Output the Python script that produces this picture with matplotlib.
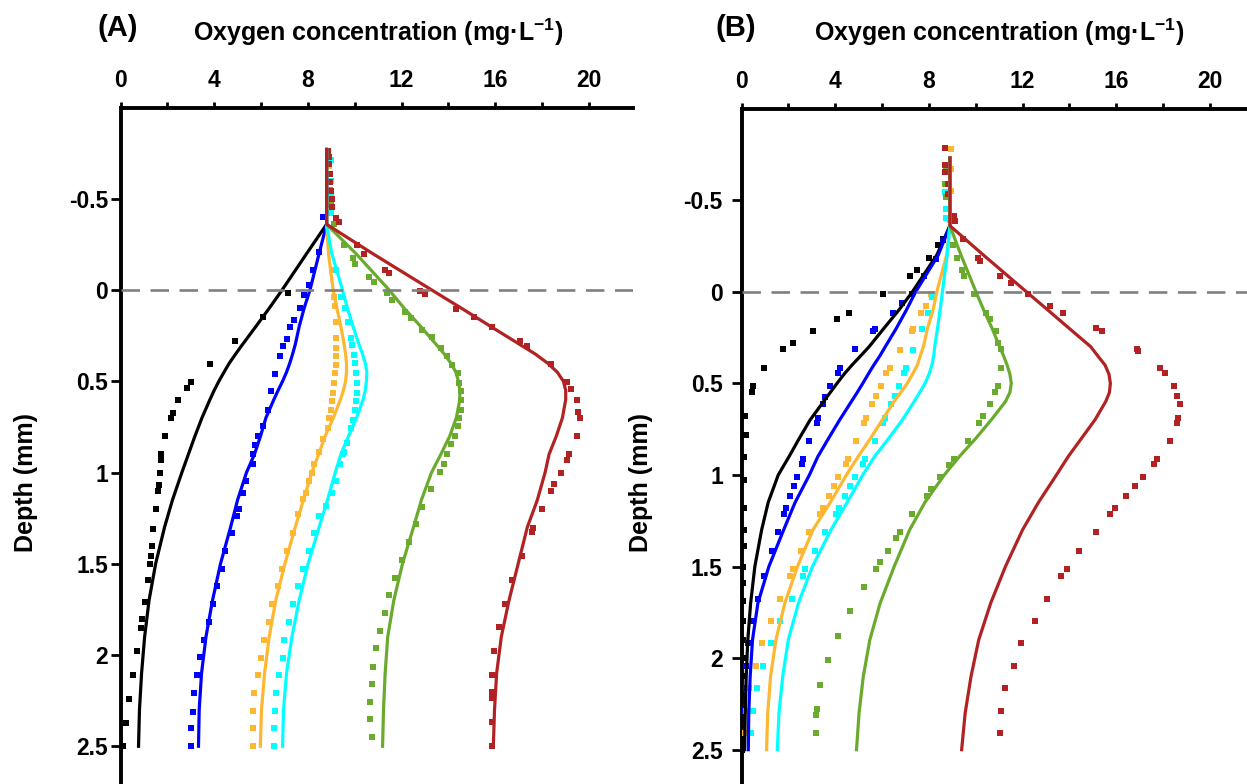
import matplotlib
matplotlib.use("Agg")
import matplotlib.pyplot as plt
from matplotlib.ticker import FixedLocator

plt.rcParams['font.family'] = ['Liberation Sans', 'DejaVu Sans']
plt.rcParams['font.weight'] = 'bold'
plt.rcParams['mathtext.fontset'] = 'custom'
plt.rcParams['mathtext.rm'] = 'Liberation Sans:bold'
plt.rcParams['mathtext.bf'] = 'Liberation Sans:bold'
plt.rcParams['mathtext.it'] = 'Liberation Sans:bold:italic'
plt.rcParams['mathtext.default'] = 'rm'

# ---------------- shared ----------------
series = ["black", "blue", "orange", "cyan", "green", "red"]
colors = {"black": "#000000", "blue": "#0000FF", "orange": "#FDB733",
          "cyan": "#00FFFF", "green": "#6AAB2E", "red": "#B22222"}
x_major = [0, 4, 8, 12, 16, 20]
x_minor = [2, 6, 10, 14, 18]
y_ticks = [-0.5, 0, 0.5, 1, 1.5, 2, 2.5]
y_ticklabels = ["-0.5", "0", "0.5", "1", "1.5", "2", "2.5"]

# model-line depth grid (mm)
line_depth_A = [-0.77, -0.36, -0.2, 0.0, 0.1, 0.2, 0.3, 0.35, 0.4, 0.45, 0.5, 0.55, 0.6,
                0.7, 0.8, 0.9, 1.0, 1.15, 1.3, 1.5, 1.7, 1.9, 2.1, 2.3, 2.5]
line_depth_B = [-0.73, -0.36, -0.2, 0.0, 0.1, 0.2, 0.3, 0.35, 0.4, 0.45, 0.5, 0.55, 0.6,
                0.7, 0.8, 0.9, 1.0, 1.15, 1.3, 1.5, 1.7, 1.9, 2.1, 2.3, 2.5]

# ---------------- panel A model lines ----------------
lineA_black = [8.8, 8.8, 7.95, 6.9, 6.35, 5.78, 5.2, 4.92, 4.65, 4.42, 4.2, 4.0, 3.82,
               3.48, 3.18, 2.9, 2.62, 2.22, 1.88, 1.5, 1.22, 1.03, 0.9, 0.81, 0.77]
lineA_blue = [8.8, 8.8, 8.48, 8.09, 7.84, 7.63, 7.46, 7.35, 7.23, 7.09, 6.92, 6.73, 6.55,
              6.21, 5.98, 5.72, 5.38, 5.0, 4.7, 4.27, 3.93, 3.65, 3.46, 3.36, 3.33]
lineA_orange = [8.8, 8.8, 8.88, 9.08, 9.24, 9.41, 9.55, 9.61, 9.65, 9.65, 9.61, 9.52, 9.39,
                9.09, 8.74, 8.46, 8.17, 7.81, 7.46, 7.02, 6.63, 6.35, 6.15, 6.02, 5.97]
lineA_cyan = [8.8, 8.8, 9.02, 9.48, 9.69, 9.93, 10.19, 10.33, 10.45, 10.52, 10.5, 10.45, 10.36,
              10.08, 9.74, 9.41, 9.17, 8.84, 8.48, 8.01, 7.63, 7.32, 7.09, 6.96, 6.92]
lineA_green = [8.8, 8.8, 10.05, 11.47, 12.11, 12.82, 13.49, 13.82, 14.1, 14.32, 14.43, 14.49, 14.49,
               14.34, 14.06, 13.68, 13.28, 12.85, 12.51, 12.04, 11.67, 11.41, 11.3, 11.23, 11.19]
lineA_red = [8.8, 8.8, 10.76, 13.29, 14.56, 15.81, 17.07, 17.7, 18.23, 18.65, 18.91, 19.01, 19.01,
             18.87, 18.61, 18.3, 18.13, 17.8, 17.37, 16.98, 16.59, 16.26, 16.06, 15.97, 15.92]

# ---------------- panel B model lines ----------------
lineB_black = [8.9, 8.9, 8.34, 7.3, 6.72, 6.08, 5.45, 5.09, 4.72, 4.38, 4.08, 3.79, 3.5,
               2.93, 2.47, 2.03, 1.57, 1.14, 0.86, 0.57, 0.39, 0.27, 0.2, 0.16, 0.13]
lineB_blue = [8.9, 8.9, 8.4, 7.44, 7.04, 6.61, 6.14, 5.91, 5.65, 5.41, 5.18, 4.94, 4.69,
              4.19, 3.72, 3.26, 2.9, 2.29, 1.8, 1.17, 0.7, 0.47, 0.37, 0.31, 0.29]
lineB_orange = [8.9, 8.9, 8.76, 8.34, 8.18, 7.94, 7.77, 7.63, 7.51, 7.3, 7.08, 6.8, 6.51,
                6.01, 5.51, 4.98, 4.48, 3.79, 3.05, 2.39, 1.85, 1.47, 1.24, 1.12, 1.07]
lineB_cyan = [8.9, 8.9, 8.78, 8.58, 8.48, 8.37, 8.25, 8.21, 8.13, 8.01, 7.84, 7.61, 7.37,
              6.87, 6.29, 5.68, 5.18, 4.51, 3.82, 3.03, 2.43, 2.0, 1.76, 1.6, 1.53]
lineB_green = [8.9, 8.9, 9.37, 10.01, 10.34, 10.7, 11.02, 11.19, 11.34, 11.46, 11.52, 11.46, 11.27,
               10.66, 10.01, 9.3, 8.66, 7.83, 7.18, 6.52, 5.92, 5.48, 5.2, 5.02, 4.91]
lineB_red = [8.9, 8.9, 10.33, 12.16, 13.08, 13.99, 14.91, 15.21, 15.52, 15.69, 15.75, 15.71, 15.55,
             15.09, 14.52, 13.95, 13.45, 12.68, 12.0, 11.27, 10.64, 10.13, 9.8, 9.55, 9.4]

# ---------------- panel A measured points ----------------
dotA_black_x = [7.16, 6.07, 4.90, 3.83, 3.01, 2.82, 2.45, 2.25, 2.15, 1.91, 1.75, 1.75, 1.69, 1.63,
                1.60, 1.52, 1.40, 1.34, 1.29, 1.25, 1.17, 1.05, 0.92, 0.86, 0.70, 0.53, 0.38, 0.23, 0.09]
dotA_black_y = [0.018, 0.149, 0.28, 0.405, 0.504, 0.538, 0.604, 0.673, 0.702, 0.80, 0.90, 0.93, 1.004,
                1.07, 1.10, 1.20, 1.31, 1.40, 1.46, 1.50, 1.59, 1.71, 1.80, 1.85, 1.98, 2.11, 2.24, 2.37, 2.50]
dotA_blue_x = [8.66, 8.46, 8.2, 8.03, 7.85, 7.67, 7.42, 7.25, 7.09, 6.95, 6.82, 6.59, 6.42, 6.28, 6.07,
               5.89, 5.75, 5.67, 5.64, 5.36, 5.21, 5.04, 4.97, 4.76, 4.47, 4.32, 4.14, 3.95, 3.76, 3.58,
               3.41, 3.26, 3.15, 3.08, 3.02, 3.01]
dotA_blue_y = [-0.40, -0.21, -0.11, -0.03, 0.027, 0.10, 0.167, 0.20, 0.267, 0.305, 0.364, 0.46, 0.555,
               0.655, 0.745, 0.80, 0.85, 0.90, 0.955, 1.046, 1.11, 1.20, 1.24, 1.33, 1.43, 1.53, 1.62,
               1.72, 1.82, 1.92, 2.01, 2.11, 2.21, 2.31, 2.40, 2.50]
dotA_orange_x = [8.9, 8.9, 9.05, 9.12, 9.17, 9.2, 9.22, 9.22, 9.22, 9.2, 9.17, 9.12, 9.08, 9.02, 8.98,
                 8.91, 8.84, 8.65, 8.48, 8.27, 8.17, 8.06, 7.91, 7.80, 7.56, 7.35, 7.13, 6.89, 6.71,
                 6.49, 6.32, 6.14, 5.99, 5.85, 5.71, 5.67, 5.64, 5.64]
dotA_orange_y = [-0.68, -0.5, -0.11, 0.036, 0.09, 0.173, 0.264, 0.318, 0.364, 0.41, 0.455, 0.51, 0.564,
                 0.61, 0.655, 0.70, 0.755, 0.818, 0.89, 0.955, 1.0, 1.045, 1.11, 1.145, 1.23, 1.33,
                 1.43, 1.527, 1.62, 1.72, 1.818, 1.918, 2.015, 2.11, 2.21, 2.305, 2.40, 2.50]
dotA_cyan_x = [8.98, 8.98, 8.98, 8.98, 9.2, 9.41, 9.59, 9.72, 9.84, 9.9, 9.98, 10.02, 10.05, 10.08,
               10.08, 10.05, 10.02, 9.91, 9.84, 9.69, 9.55, 9.48, 9.37, 9.19, 9.05, 8.77, 8.48, 8.27,
               8.03, 7.8, 7.6, 7.37, 7.2, 6.99, 6.95, 6.78, 6.66, 6.59, 6.56, 6.56]
dotA_cyan_y = [-0.71, -0.6, -0.51, -0.42, -0.11, 0.036, 0.10, 0.173, 0.264, 0.30, 0.355, 0.40, 0.455,
               0.51, 0.564, 0.61, 0.655, 0.71, 0.755, 0.836, 0.89, 0.90, 0.955, 1.045, 1.11, 1.182,
               1.24, 1.33, 1.43, 1.527, 1.62, 1.72, 1.818, 1.918, 2.015, 2.11, 2.21, 2.305, 2.40, 2.50]
dotA_green_x = [8.95, 8.98, 9.12, 9.55, 9.91, 10.02, 10.59, 10.83, 11.36, 11.61, 12.15, 12.4, 12.89,
                13.32, 13.68, 13.96, 14.17, 14.39, 14.46, 14.53, 14.53, 14.53, 14.46, 14.39, 14.29,
                14.1, 13.96, 13.82, 13.63, 13.25, 12.89, 12.61, 12.32, 12.04, 11.73, 11.47, 11.29,
                11.09, 10.9, 10.8, 10.73, 10.65, 10.65, 10.73]
dotA_green_y = [-0.55, -0.464, -0.364, -0.245, -0.173, -0.145, -0.073, -0.045, 0.018, 0.055, 0.118,
                0.155, 0.218, 0.255, 0.318, 0.364, 0.41, 0.455, 0.51, 0.555, 0.60, 0.655, 0.70, 0.745,
                0.80, 0.845, 0.90, 0.955, 0.996, 1.09, 1.19, 1.282, 1.382, 1.478, 1.576, 1.673, 1.769,
                1.867, 1.964, 2.064, 2.16, 2.255, 2.35, 2.45]
dotA_red_x = [8.88, 8.91, 8.91, 8.94, 8.94, 8.98, 9.02, 9.05, 9.2, 9.31, 10.08, 10.4, 11.3, 11.47,
              12.78, 13.0, 14.32, 15.1, 15.88, 17.05, 17.37, 18.37, 19.08, 19.22, 19.51, 19.55, 19.61,
              19.51, 19.15, 19.08, 18.8, 18.51, 18.37, 18.01, 17.62, 17.59, 17.13, 16.73, 16.42, 16.16,
              15.95, 15.85, 15.85, 15.88, 15.85, 15.85]
dotA_red_y = [-0.764, -0.727, -0.691, -0.636, -0.591, -0.545, -0.5, -0.455, -0.396, -0.373, -0.245,
              -0.196, -0.109, -0.095, 0.004, 0.022, 0.104, 0.149, 0.2, 0.278, 0.305, 0.405, 0.504, 0.54,
              0.604, 0.669, 0.702, 0.80, 0.90, 0.931, 1.004, 1.064, 1.104, 1.2, 1.305, 1.327, 1.455,
              1.587, 1.718, 1.849, 1.978, 2.109, 2.2, 2.236, 2.369, 2.5]

# ---------------- panel B measured points ----------------
dotB_black_x = [8.6, 8.37, 8.01, 7.48, 7.2, 6.04, 4.58, 4.08, 3.05, 2.22, 1.79, 0.97, 0.50, 0.43, 0.14,
                0.2, 0.12, 0.12, 0.12, 0.1, 0.1, 0.08, 0.08, 0.06, 0.06, 0.05, 0.05, 0.04, 0.04, 0.03,
                0.03, 0.02]
dotB_black_y = [-0.29, -0.255, -0.185, -0.118, -0.085, 0.015, 0.115, 0.149, 0.215, 0.282, 0.315, 0.415,
                0.515, 0.547, 0.678, 0.78, 0.90, 1.03, 1.18, 1.3, 1.39, 1.5, 1.59, 1.69, 1.8, 1.9, 2.0,
                2.1, 2.2, 2.3, 2.4, 2.5]
dotB_blue_x = [8.6, 8.3, 7.8, 7.3, 6.87, 6.48, 5.72, 5.62, 4.84, 4.22, 4.11, 3.79, 3.58, 3.48, 3.25,
               3.22, 2.89, 2.62, 2.58, 2.39, 2.25, 2.07, 1.89, 1.82, 1.55, 1.29, 0.97, 0.69, 0.47, 0.29,
               0.21, 0.19, 0.14, 0.11]
dotB_blue_y = [-0.28, -0.18, -0.085, 0.015, 0.064, 0.115, 0.205, 0.215, 0.315, 0.415, 0.445, 0.515,
               0.573, 0.613, 0.69, 0.715, 0.813, 0.914, 0.94, 1.013, 1.058, 1.115, 1.182, 1.213, 1.309,
               1.418, 1.551, 1.676, 1.798, 1.92, 2.042, 2.163, 2.287, 2.409]
dotB_orange_x = [8.94, 8.94, 8.94, 8.91, 8.11, 7.87, 7.65, 7.34, 7.3, 6.75, 6.32, 6.19, 5.94, 5.74,
                 5.58, 5.32, 5.25, 4.89, 4.53, 4.48, 4.12, 3.93, 3.72, 3.46, 3.36, 2.9, 2.55, 2.19,
                 2.05, 1.65, 1.24, 0.89, 0.62, 0.33, 0.19, 0.14]
dotB_orange_y = [-0.78, -0.67, -0.55, -0.39, 0.015, 0.076, 0.115, 0.205, 0.215, 0.318, 0.415, 0.445,
                 0.515, 0.569, 0.613, 0.69, 0.715, 0.813, 0.914, 0.94, 1.013, 1.058, 1.115, 1.182,
                 1.213, 1.309, 1.418, 1.513, 1.551, 1.676, 1.798, 1.92, 2.042, 2.163, 2.287, 2.409]
dotB_cyan_x = [8.68, 8.73, 8.75, 8.15, 7.97, 7.7, 7.32, 7.04, 6.94, 6.72, 6.54, 6.39, 6.11, 6.05, 5.68,
               5.26, 5.19, 4.86, 4.65, 4.43, 4.15, 4.05, 3.58, 3.15, 2.72, 2.62, 2.15, 1.65, 1.26,
               0.93, 0.67, 0.47, 0.39]
dotB_cyan_y = [-0.545, -0.45, -0.4, 0.03, 0.115, 0.205, 0.318, 0.415, 0.445, 0.515, 0.569, 0.613, 0.69,
               0.715, 0.813, 0.914, 0.94, 1.013, 1.058, 1.115, 1.182, 1.213, 1.309, 1.418, 1.513,
               1.551, 1.676, 1.798, 1.92, 2.042, 2.163, 2.287, 2.409]
dotB_green_x = [8.73, 8.68, 8.73, 9.01, 9.2, 9.4, 9.51, 9.94, 10.44, 10.59, 10.87, 10.97, 11.09,
                11.09, 10.94, 10.83, 10.59, 10.3, 10.13, 9.69, 9.08, 8.87, 8.47, 8.08, 7.91, 7.27,
                6.75, 6.58, 6.25, 5.91, 5.75, 5.25, 4.65, 4.12, 3.68, 3.36, 3.22, 3.19, 3.19]
dotB_green_y = [-0.664, -0.59, -0.518, -0.255, -0.185, -0.118, -0.085, 0.015, 0.115, 0.149, 0.215,
                0.282, 0.315, 0.415, 0.515, 0.547, 0.613, 0.678, 0.715, 0.813, 0.914, 0.945, 1.013,
                1.078, 1.115, 1.213, 1.313, 1.347, 1.413, 1.478, 1.513, 1.613, 1.745, 1.878, 2.013,
                2.145, 2.278, 2.313, 2.409]
dotB_red_x = [8.68, 8.68, 8.68, 8.8, 8.83, 9.06, 9.11, 9.44, 10.09, 10.2, 11.02, 11.52, 12.23, 13.16,
              13.73, 15.12, 15.38, 16.88, 16.95, 17.88, 18.07, 18.48, 18.6, 18.71, 18.63, 18.6, 18.28,
              17.74, 17.6, 17.14, 16.81, 16.42, 15.95, 15.74, 15.12, 14.41, 13.88, 13.66, 13.05,
              12.52, 11.95, 11.62, 11.27, 11.09, 11.02]
dotB_red_y = [-0.782, -0.69, -0.655, -0.59, -0.536, -0.413, -0.387, -0.29, -0.185, -0.169, -0.085,
              -0.049, 0.015, 0.076, 0.115, 0.2, 0.215, 0.315, 0.322, 0.415, 0.445, 0.515, 0.569, 0.613,
              0.69, 0.715, 0.813, 0.914, 0.94, 1.013, 1.058, 1.115, 1.182, 1.213, 1.309, 1.418, 1.513,
              1.551, 1.676, 1.798, 1.92, 2.042, 2.163, 2.287, 2.409]

panels = {
    "A": {
        "depth": line_depth_A,
        "lines": {"black": lineA_black, "blue": lineA_blue, "orange": lineA_orange,
                  "cyan": lineA_cyan, "green": lineA_green, "red": lineA_red},
        "dots": {"black": (dotA_black_x, dotA_black_y), "blue": (dotA_blue_x, dotA_blue_y),
                 "orange": (dotA_orange_x, dotA_orange_y), "cyan": (dotA_cyan_x, dotA_cyan_y),
                 "green": (dotA_green_x, dotA_green_y), "red": (dotA_red_x, dotA_red_y)},
    },
    "B": {
        "depth": line_depth_B,
        "lines": {"black": lineB_black, "blue": lineB_blue, "orange": lineB_orange,
                  "cyan": lineB_cyan, "green": lineB_green, "red": lineB_red},
        "dots": {"black": (dotB_black_x, dotB_black_y), "blue": (dotB_blue_x, dotB_blue_y),
                 "orange": (dotB_orange_x, dotB_orange_y), "cyan": (dotB_cyan_x, dotB_cyan_y),
                 "green": (dotB_green_x, dotB_green_y), "red": (dotB_red_x, dotB_red_y)},
    },
}

W, H = 1247, 784
fig = plt.figure(figsize=(W / 100, H / 100), dpi=100)

PX_PER_UNIT = 23.42
# name: (left px, top px, px per mm, xmax, ytick pad, ylabel x, label center x)
layout = {"A": (120.5, 107.5, 182.5, 21.9, 2.0, -0.184, 117.5),
          "B": (741.5, 108.5, 183.2, 22.0, 6.5, -0.195, 736.0)}

for name, (lpx, tpx, pxmm, xmax, ypad, ylx, labx) in layout.items():
    ax_w = PX_PER_UNIT * xmax
    ax_h = H - tpx
    ax = fig.add_axes([lpx / W, 0.0, ax_w / W, ax_h / H])
    p = panels[name]
    for s in series:
        dx, dy = p["dots"][s]
        ax.plot(dx, dy, ls='none', marker='s', ms=4.2, mew=0, color=colors[s], zorder=3)
    for s in series:
        ax.plot(p["lines"][s], p["depth"], color=colors[s], lw=2.3, zorder=4,
                solid_joinstyle='round')
    ax.axhline(0, color='#808080', lw=1.9, ls=(0, (7, 4)), zorder=5)

    ax.set_xlim(0, xmax)
    ax.set_ylim(-1.0 + ax_h / pxmm, -1.0)
    ax.xaxis.set_ticks_position('top')
    ax.xaxis.set_label_position('top')
    ax.xaxis.set_major_locator(FixedLocator(x_major))
    ax.xaxis.set_minor_locator(FixedLocator(x_minor))
    ax.set_xticklabels([str(v) for v in x_major])
    ax.set_yticks(y_ticks)
    ax.set_yticklabels(y_ticklabels)
    for sp in ('right', 'bottom'):
        ax.spines[sp].set_visible(False)
    for sp in ('left', 'top'):
        ax.spines[sp].set_linewidth(2.8)
    ax.tick_params(axis='x', which='both', direction='out', length=4.5, width=2.0,
                   labelsize=16.5, pad=7)
    ax.tick_params(axis='y', which='major', direction='out', length=7, width=2.0,
                   labelsize=16.5, pad=ypad)
    for lab in ax.get_xticklabels() + ax.get_yticklabels():
        lab.set_fontweight('bold')

    ax.set_xlabel("Oxygen concentration (mg·L$^{-1}$)", fontsize=18, fontweight='bold')
    ax.xaxis.set_label_coords(0.5 * 22.0 / xmax, (H - 41.5) / ax_h)
    ax.xaxis.label.set_va('baseline')
    ax.set_ylabel("Depth (mm)", fontsize=18, fontweight='bold')
    ax.yaxis.set_label_coords(ylx * 514.5 / ax_w, (H - 483) / ax_h)
    ax.yaxis.label.set_va('center')

    ax.text(labx / W, 1 - 28 / H, f"({name})", transform=fig.transFigure,
            ha='center', va='center', fontsize=21, fontweight='bold')

fig.savefig("out.png", dpi=100)
